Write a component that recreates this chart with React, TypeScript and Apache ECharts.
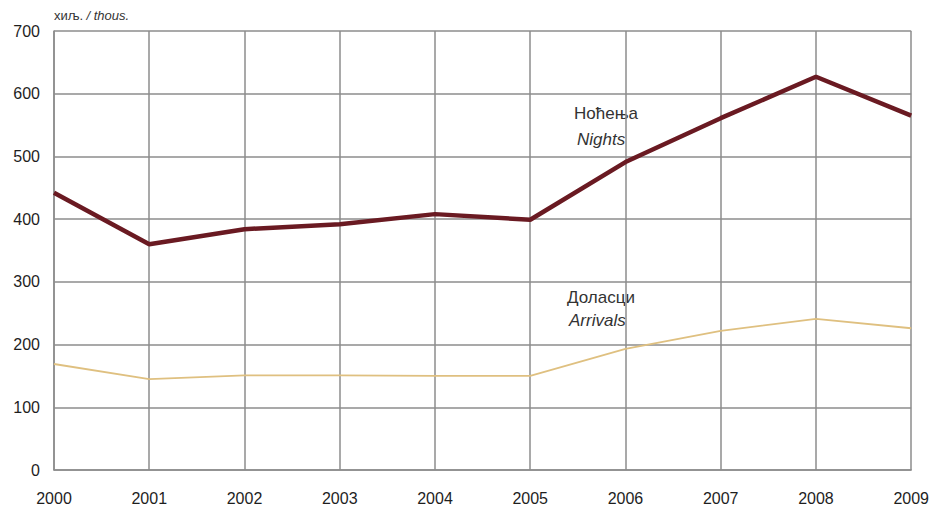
import React, { useEffect, useRef } from "react";
import * as echarts from "echarts";

const years = ["2000", "2001", "2002", "2003", "2004", "2005", "2006", "2007", "2008", "2009"];
const nights = [442, 360, 384, 392, 408, 399, 491, 561, 627, 565];
const arrivals = [169, 145, 151, 151, 150, 150, 193, 222, 241, 226];
const yTicks = [0, 100, 200, 300, 400, 500, 600, 700];

export default function App() {
  const ref = useRef<HTMLDivElement>(null);
  useEffect(() => {
    document.body.style.margin = "0";
    const chart = echarts.init(ref.current!, null, { renderer: "svg" });
    const font = "'Liberation Sans', Arial, sans-serif";
    chart.setOption({
      animation: false,
      backgroundColor: "#ffffff",
      grid: { left: 54, right: 20, top: 31, bottom: 37, containLabel: false },
      xAxis: {
        type: "category",
        data: years,
        boundaryGap: false,
        axisLine: { show: true, lineStyle: { color: "#8c8c8c", width: 1.5 } },
        axisTick: { show: false },
        splitLine: { show: true, lineStyle: { color: "#8c8c8c", width: 1.5 } },
        axisLabel: { color: "#1e1e1e", fontSize: 16, fontFamily: font, margin: 20 },
      },
      yAxis: {
        type: "value",
        min: yTicks[0],
        max: yTicks[yTicks.length - 1],
        interval: 100,
        axisLine: { show: true, lineStyle: { color: "#8c8c8c", width: 1.5 } },
        axisTick: { show: false },
        splitLine: { show: true, lineStyle: { color: "#8c8c8c", width: 1.5 } },
        axisLabel: { color: "#1e1e1e", fontSize: 16, fontFamily: font, margin: 14 },
      },
      series: [
        {
          name: "Nights",
          type: "line",
          data: nights,
          symbol: "none",
          lineStyle: { color: "#6a1a22", width: 4.5 },
          z: 3,
        },
        {
          name: "Arrivals",
          type: "line",
          data: arrivals,
          symbol: "none",
          lineStyle: { color: "#dfc080", width: 1.8 },
          z: 2,
        },
      ],
      graphic: [
        {
          type: "text",
          left: 54,
          top: 9,
          style: {
            text: "{a|хиљ.} {b|/ thous.}",
            rich: {
              a: { fontSize: 13, fontFamily: font, fill: "#333" },
              b: { fontSize: 13, fontFamily: font, fontStyle: "italic", fill: "#333" },
            },
          },
        },
        { type: "text", left: 574, top: 105, style: { text: "Ноћења", fontSize: 17, fontFamily: font, fill: "#333" } },
        { type: "text", left: 577, top: 131, style: { text: "Nights", fontSize: 17, fontFamily: font, fontStyle: "italic", fill: "#333" } },
        { type: "text", left: 567, top: 289, style: { text: "Доласци", fontSize: 17, fontFamily: font, fill: "#333" } },
        { type: "text", left: 569, top: 312, style: { text: "Arrivals", fontSize: 17, fontFamily: font, fontStyle: "italic", fill: "#333" } },
      ],
    });
    return () => chart.dispose();
  }, []);
  return <div ref={ref} style={{ width: 932, height: 507 }} />;
}
